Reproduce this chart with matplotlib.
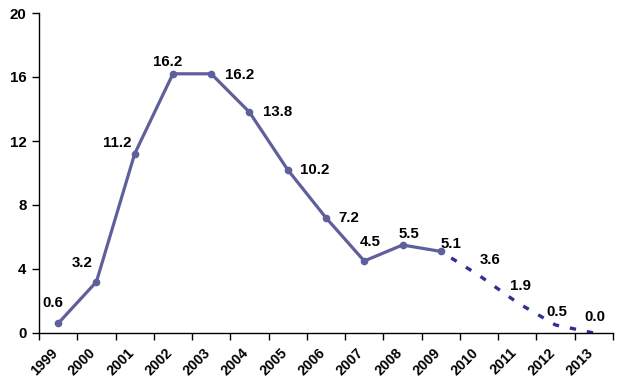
import matplotlib
matplotlib.use("Agg")
import matplotlib.pyplot as plt
import numpy as np

plt.rcParams['font.family'] = ['Liberation Sans', 'DejaVu Sans']

years = ['1999', '2000', '2001', '2002', '2003', '2004', '2005', '2006', '2007',
         '2008', '2009', '2010', '2011', '2012', '2013']
actual_values = [0.6, 3.2, 11.2, 16.2, 16.2, 13.8, 10.2, 7.2, 4.5, 5.5, 5.1]
forecast_values = [5.1, 3.6, 1.9, 0.5, 0.0]
value_labels = ['0.6', '3.2', '11.2', '16.2', '16.2', '13.8', '10.2', '7.2', '4.5',
                '5.5', '5.1', '3.6', '1.9', '0.5', '0.0']
y_ticks = [0, 4, 8, 12, 16, 20]

W, H = 623, 388
fig = plt.figure(figsize=(W / 100, H / 100), dpi=100)
ax = fig.add_axes([39 / W, (H - 333) / H, (613 - 39) / W, (333 - 13) / H])

x_act = np.arange(len(actual_values))
x_fc = np.arange(len(actual_values) - 1, len(years))

ax.plot(x_act, actual_values, color='#5F5F9C', lw=2.3, marker='o', ms=4.5,
        solid_joinstyle='round', zorder=3)
ax.plot(x_fc, forecast_values, color='#2E2E96', lw=2.4, ls=(1.5, (1.9, 3.3)),
        zorder=2)

all_vals = actual_values + forecast_values[1:]
offsets = [(-5, 20), (-14, 19), (-17, 11), (-5, 12), (28, -1), (28, 0), (27, 0),
           (23, 0), (6, 19), (6, 11), (10, 7), (11, 15), (3, 17), (1, 13), (1, 16)]
for i, (v, lab, off) in enumerate(zip(all_vals, value_labels, offsets)):
    ax.annotate(lab, (i, v), xytext=off, textcoords='offset pixels',
                ha='center', va='center', fontsize=10.8, fontweight='bold',
                color='#000000')

ax.set_xlim(-0.5, len(years) - 0.5)
ax.set_ylim(0, 20)
ax.set_yticks(y_ticks)
ax.set_yticklabels([str(t) for t in y_ticks], fontsize=10.8, fontweight='bold')

ax.set_xticks(np.arange(len(years) + 1) - 0.5)
ax.set_xticklabels([])
ax.set_xticks(np.arange(len(years)) - 0.2, minor=True)
ax.set_xticklabels(years, minor=True, rotation=45, ha='right',
                   rotation_mode='anchor', fontsize=10.3, fontweight='bold')
ax.tick_params(axis='x', which='minor', length=0, pad=9)
ax.tick_params(axis='x', which='major', length=5, width=1, direction='out')
ax.tick_params(axis='y', length=5, width=1, direction='out', pad=4)

for s in ['top', 'right']:
    ax.spines[s].set_visible(False)
for s in ['left', 'bottom']:
    ax.spines[s].set_linewidth(1)
    ax.spines[s].set_color('#000000')

fig.savefig('out.png', dpi=100)
